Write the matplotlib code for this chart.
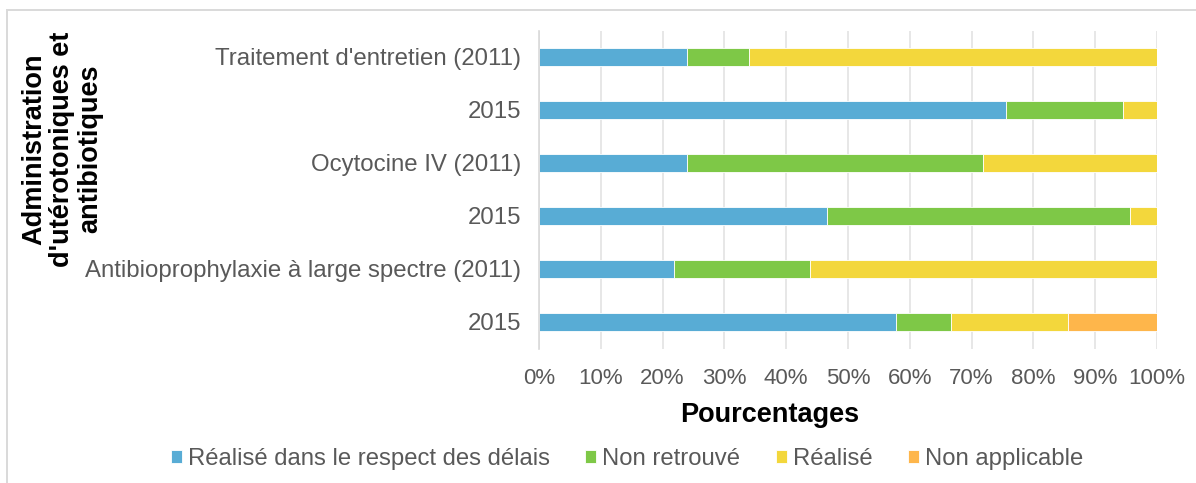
import matplotlib.pyplot as plt
from matplotlib.patches import Rectangle
import numpy as np

plt.rcParams['font.family'] = ['Liberation Sans', 'DejaVu Sans']

categories = ["Traitement d'entretien (2011)", "2015", "Ocytocine IV (2011)", "2015",
              "Antibioprophylaxie à large spectre (2011)", "2015"]
series = ["Réalisé dans le respect des délais", "Non retrouvé", "Réalisé", "Non applicable"]
delais = [24.0, 75.6, 24.0, 46.6, 21.9, 57.8]
retrouve = [10.0, 18.9, 47.9, 49.0, 21.9, 8.8]
realise = [66.0, 5.5, 28.1, 4.4, 56.2, 19.0]
non_app = [0.0, 0.0, 0.0, 0.0, 0.0, 14.4]
colors = ['#58ACD5', '#7EC847', '#F3D73C', '#FEB64B']

W, H = 1196, 483
fig = plt.figure(figsize=(W / 100, H / 100), dpi=100)
ax = fig.add_axes([539 / W, 1 - 348.5 / H, 618 / W, 318 / H])

# light frame: only left and top edges fall inside the picture
fig.patches.append(Rectangle((7 / W, -0.05), 1.1, 1 - 10 / H + 0.05,
                             transform=fig.transFigure, fill=False,
                             edgecolor='#D9D9D9', linewidth=1.4))

y = np.arange(len(categories))
left = np.zeros(len(categories))
for vals, name, c in zip([delais, retrouve, realise, non_app], series, colors):
    ax.barh(y, vals, left=left, height=0.34, color=c, label=name,
            edgecolor='white', linewidth=0.6)
    left += np.array(vals)

ax.set_xlim(0, 100)
ax.set_ylim(len(categories) - 0.5, -0.5)
ax.set_yticks(y)
ax.set_yticklabels(categories)
ax.set_xticks(np.arange(0, 101, 10))
ax.set_xticklabels([f'{v}%' for v in range(0, 101, 10)])
ax.tick_params(axis='y', length=0, labelsize=17.3, colors='#595959', pad=13)
ax.tick_params(axis='x', length=0, labelsize=16, colors='#595959', pad=14)
ax.grid(axis='x', color='#E3E3E3', linewidth=1.2)
ax.set_axisbelow(True)
for s in ['top', 'right', 'bottom']:
    ax.spines[s].set_visible(False)
ax.spines['left'].set_color('#D9D9D9')
ax.spines['left'].set_linewidth(1.2)

fig.text(770 / W, 1 - 415 / H, 'Pourcentages', ha='center', va='center',
         fontsize=19.5, fontweight='bold')
fig.text(62 / W, 1 - 149 / H, "Administration\nd'utérotoniques et\nantibiotiques",
         rotation=90, ha='center', va='center', fontsize=19.5, fontweight='bold',
         linespacing=1.1)

fig.legend(*ax.get_legend_handles_labels(), loc='center',
           bbox_to_anchor=(627 / W, 1 - 459 / H), ncol=4, frameon=False,
           fontsize=17.2, handlelength=0.45, handleheight=0.45, handletextpad=0.25,
           columnspacing=1.5, labelcolor='#595959')

fig.savefig('out.png', dpi=100)
